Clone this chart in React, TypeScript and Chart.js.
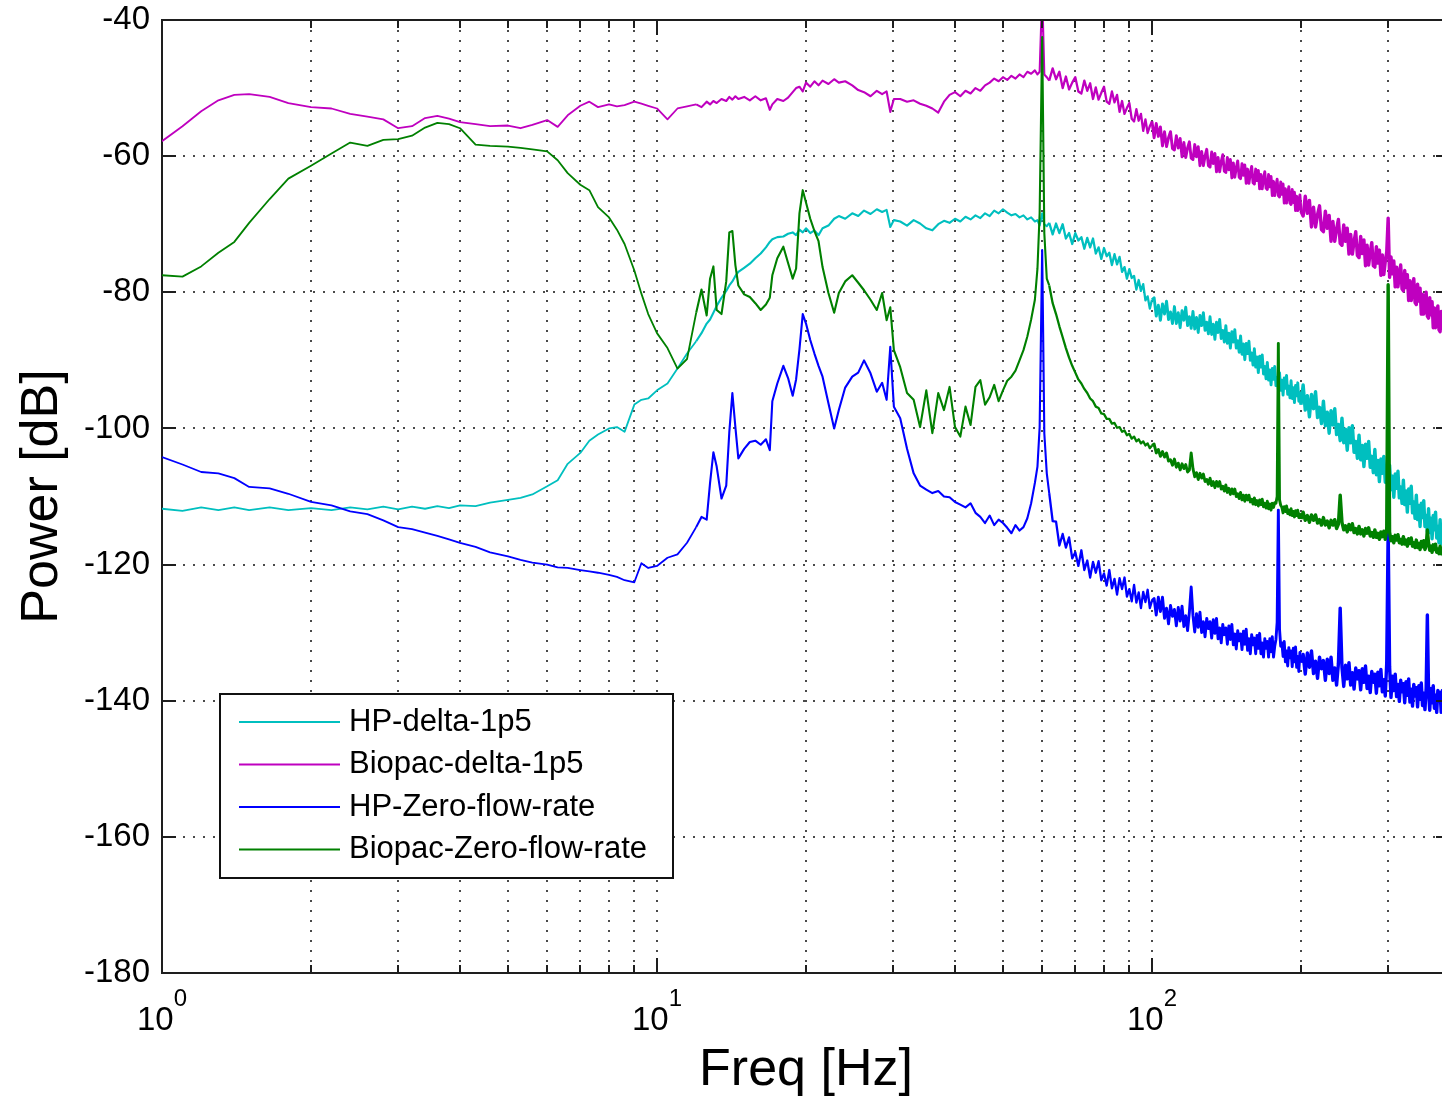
import React, { useEffect, useRef } from 'react';
import { Chart, registerables } from 'chart.js';

Chart.register(...registerables);

// ---------------- data ----------------
const FREQ_HZ = [
  1, 1.1, 1.2, 1.3, 1.4, 1.5, 1.65, 1.8, 2, 2.2, 2.4, 2.6, 2.8, 3, 3.2, 3.4, 3.6, 3.8, 4, 4.3, 4.6, 5, 5.3, 5.6, 6, 6.3, 6.6, 7, 7.3, 7.6, 8, 8.3, 8.6, 9, 9.3, 9.6,
  10, 10.5, 11, 11.5, 12, 12.3, 12.6, 12.8, 13, 13.2, 13.5, 13.8, 14, 14.2, 14.4, 14.6, 15, 15.4, 15.8, 16.2, 16.6, 16.9, 17.1, 17.5, 18, 18.4, 18.8, 19.1, 19.4, 19.7, 20, 20.4, 20.8, 21.2, 21.6, 22.2, 22.8, 23.3, 24, 24.8, 25.5, 26.2, 27, 27.8, 28.5, 29.1, 29.6, 30.1,
  31, 32, 33, 34, 35, 36, 37, 38, 39, 40, 41, 42, 43, 44, 45, 46, 47, 48, 49, 50, 51, 52, 53, 54, 55, 56, 57, 58, 58.7, 59.3, 60, 60.6, 61.3,
  62, 63, 64, 65, 66, 67, 68, 69, 70, 71, 72, 73, 74, 75, 76, 77, 78, 79, 80, 81, 82, 83, 84, 85, 86, 87, 88, 89, 90, 91, 92, 93, 94, 95, 96, 97, 98, 99, 100,
  101, 102, 103, 104, 105, 106, 107, 108, 109, 110, 111, 112, 113, 114, 115, 116, 117, 118, 119, 120,
  121, 122, 123, 124, 125, 126, 127, 128, 129, 130, 131, 132, 133, 134, 135, 136, 137, 138, 139, 140,
  141, 142, 143, 144, 145, 146, 147, 148, 149, 150, 151, 152, 153, 154, 155, 156, 157, 158, 159, 160,
  161, 162, 163, 164, 165, 166, 167, 168, 169, 170, 171, 172, 173, 174, 175, 176, 177, 178, 179, 180,
  181, 182, 183, 184, 185, 186, 187, 188, 189, 190, 191, 192, 193, 194, 195, 196, 197, 198, 199, 200,
  202, 204, 206, 208, 210, 212, 214, 216, 218, 220, 222, 224, 226, 228, 230, 232, 234, 236, 238, 240,
  242, 244, 246, 248, 250, 252, 254, 256, 258, 260, 262, 264, 266, 268, 270, 272, 274, 276, 278, 280,
  282, 284, 286, 288, 290, 292, 294, 296, 298, 300, 302, 304, 306, 308, 310, 312, 314, 316, 318, 320,
  322, 324, 326, 328, 330, 332, 334, 336, 338, 340, 342, 344, 346, 348, 350, 352, 354, 356, 358, 360,
  362, 364, 366, 368, 370, 372, 374, 376, 378, 380, 382, 384, 386, 388, 390, 392, 394, 396, 398, 400,
];

const HP_DELTA_1P5 = [
  -111.8, -112.1, -111.6, -112.0, -111.6, -112.0, -111.6, -112.0, -111.7, -112.0, -111.6, -111.9, -111.5, -111.9, -111.5, -111.8, -111.4, -111.7, -111.3, -111.4, -110.9, -110.5, -110.2, -109.7, -108.5, -107.6, -105.2, -103.6, -101.8, -100.9, -100.0, -99.8, -100.5, -96.5, -95.8, -95.6,
  -94.4, -93.4, -91.2, -89.0, -87.2, -86.0, -84.6, -84.0, -83.0, -82.0, -80.8, -79.8, -79.0, -78.4, -77.6, -77.0, -76.4, -75.8, -75.0, -74.3, -73.4, -72.6, -72.2, -71.9, -71.8, -71.4, -71.2, -71.6, -70.8, -71.2, -70.6, -71.3, -70.9, -71.6, -70.6, -70.2, -69.2, -68.8, -69.2, -68.4, -68.8, -68.0, -68.5, -67.8, -68.2, -67.9, -70.4, -69.4,
  -69.6, -70.2, -69.4, -69.9, -70.6, -70.9, -70.0, -69.5, -69.8, -69.2, -69.6, -68.9, -69.3, -68.7, -69.1, -68.4, -68.8, -68.0, -68.4, -67.8, -68.3, -68.7, -68.5, -69.0, -68.7, -69.3, -69.0, -69.6, -69.4, -70.2, -68.4, -70.0, -70.3,
  -69.8, -71.5, -69.9, -71.3, -70.0, -72.1, -71.3, -72.9, -71.3, -72.4, -71.9, -73.6, -72.0, -73.4, -72.1, -74.3, -73.4, -75.1, -73.5, -74.7, -74.2, -76.0, -74.4, -75.9, -74.8, -77.0, -76.3, -78.0, -76.6, -77.9, -77.6, -79.6, -78.2, -79.8, -78.8, -81.2, -80.6, -82.4, -81.1,
  -80.8, -83.5, -81.9, -84.1, -81.7, -83.2, -81.3, -84.0, -82.9, -84.6, -82.1, -84.6, -83.0, -85.2, -82.7, -84.1, -82.2, -84.9, -83.6, -85.3,
  -82.8, -85.4, -83.7, -85.9, -83.4, -84.9, -83.0, -85.6, -84.4, -86.1, -83.6, -86.2, -84.7, -86.9, -84.4, -85.9, -84.0, -86.8, -85.6, -87.3,
  -84.9, -87.5, -86.0, -88.2, -85.8, -87.3, -85.5, -88.2, -87.1, -88.8, -86.4, -89.1, -87.6, -89.9, -87.5, -89.0, -87.2, -90.0, -88.9, -90.7,
  -88.3, -91.0, -89.5, -91.8, -89.4, -91.0, -89.2, -92.0, -90.9, -92.7, -90.3, -92.9, -91.4, -93.6, -91.2, -92.8, -90.9, -93.7, -92.5, -94.3,
  -91.8, -94.4, -92.9, -95.1, -92.6, -94.1, -92.2, -95.0, -93.8, -95.5, -93.0, -95.6, -94.0, -96.2, -93.7, -95.2, -93.3, -96.0, -94.8, -96.5,
  -93.6, -97.3, -95.2, -98.3, -95.0, -97.1, -94.6, -98.4, -96.9, -99.3, -96.0, -99.6, -97.6, -100.7, -97.4, -99.5, -97.1, -100.9, -99.4, -101.8,
  -98.5, -102.1, -100.1, -103.2, -99.9, -102.1, -99.6, -103.5, -101.9, -104.4, -101.0, -104.6, -102.5, -105.6, -102.3, -104.4, -101.9, -105.7, -104.1, -106.5,
  -103.1, -106.8, -104.7, -107.8, -104.5, -106.6, -104.1, -107.9, -106.4, -108.8, -105.4, -109.0, -107.0, -110.1, -106.7, -108.8, -106.3, -110.2, -108.6, -111.0,
  -107.6, -111.2, -109.2, -112.3, -108.9, -111.0, -108.5, -112.4, -110.8, -113.2, -109.8, -113.4, -111.3, -114.4, -111.0, -113.1, -110.6, -114.4, -112.8, -115.2,
  -111.8, -115.3, -113.2, -116.2, -112.8, -114.9, -112.3, -116.1, -114.4, -116.8, -113.4, -116.9, -114.8, -117.8, -114.4, -116.4, -113.9, -117.6, -116.0, -118.3,
];

const BIOPAC_DELTA_1P5 = [
  -57.8, -55.6, -53.4, -51.8, -51.0, -50.9, -51.3, -52.2, -52.8, -53.0, -53.8, -54.2, -54.6, -55.9, -55.6, -54.4, -54.1, -54.5, -55.0, -55.3, -55.6, -55.5, -55.9, -55.4, -54.7, -55.7, -54.0, -52.6, -52.0, -52.8, -52.4, -52.7, -52.5, -52.0, -52.3, -52.6,
  -53.0, -54.6, -53.0, -52.7, -52.4, -52.8, -52.0, -52.4, -51.9, -52.2, -51.6, -51.9, -51.3, -51.7, -51.2, -51.6, -51.3, -51.8, -51.2, -51.8, -51.5, -53.2, -52.4, -51.6, -51.9, -51.4, -50.6, -50.0, -49.8, -50.5, -49.2, -49.8, -49.0, -49.6, -48.9, -49.4, -48.7, -49.2, -49.0, -49.6, -50.3, -50.6, -51.2, -50.4, -50.9, -50.5, -53.5, -51.6,
  -51.6, -52.0, -51.8, -52.3, -52.6, -53.0, -53.6, -52.0, -51.0, -50.6, -51.2, -50.4, -50.8, -50.0, -50.4, -49.6, -49.2, -48.6, -49.0, -48.4, -48.8, -48.2, -48.6, -48.0, -48.4, -47.6, -47.9, -47.4, -48.0, -47.6, -36.0, -48.0, -48.4,
  -48.9, -47.1, -48.7, -47.6, -50.0, -48.3, -50.2, -49.2, -48.4, -50.5, -50.8, -48.9, -50.4, -49.3, -51.6, -49.9, -51.7, -50.7, -49.8, -52.0, -52.3, -50.5, -52.1, -51.0, -53.5, -51.9, -53.8, -52.9, -52.2, -54.5, -54.9, -53.1, -54.8, -53.8, -56.3, -54.6, -56.6, -55.6, -54.9,
  -57.3, -55.2, -57.1, -55.7, -58.5, -56.4, -58.6, -57.3, -56.4, -58.9, -59.1, -57.0, -58.8, -57.4, -60.1, -58.0, -60.2, -58.8, -57.9, -60.3,
  -60.5, -58.3, -60.1, -58.6, -61.4, -59.3, -61.4, -60.0, -59.0, -61.4, -61.6, -59.4, -61.1, -59.6, -62.3, -60.2, -62.3, -60.8, -59.8, -62.2,
  -62.4, -60.2, -62.0, -60.5, -63.2, -61.0, -63.1, -61.7, -60.7, -63.1, -63.3, -61.1, -62.8, -61.3, -64.0, -61.9, -64.0, -62.5, -61.5, -63.9,
  -64.1, -61.9, -63.6, -62.1, -64.8, -62.7, -64.8, -63.3, -62.3, -64.7, -64.9, -62.7, -64.5, -63.0, -65.8, -63.7, -65.8, -64.4, -63.4, -65.8,
  -66.0, -63.8, -65.6, -64.1, -66.9, -64.8, -66.9, -65.5, -64.5, -66.9, -67.1, -64.9, -66.8, -65.3, -68.0, -65.9, -68.0, -66.7, -65.7, -68.1,
  -68.8, -65.9, -68.4, -66.5, -70.4, -67.5, -70.4, -68.6, -67.3, -70.8, -71.1, -68.1, -70.6, -68.7, -72.5, -69.6, -72.5, -70.7, -69.3, -72.8,
  -73.1, -70.1, -72.5, -70.6, -74.4, -71.5, -74.4, -72.5, -71.1, -74.6, -74.9, -71.8, -74.3, -72.3, -76.1, -73.1, -76.0, -74.1, -72.7, -76.1,
  -76.3, -73.3, -75.7, -73.8, -77.5, -74.5, -77.4, -75.5, -74.1, -69.1, -77.8, -74.8, -77.3, -75.4, -79.2, -76.3, -79.2, -77.4, -76.0, -79.5,
  -79.8, -76.8, -79.3, -77.4, -81.2, -78.3, -81.2, -79.4, -78.0, -81.5, -81.8, -78.8, -81.3, -79.4, -83.2, -80.3, -83.2, -81.4, -80.0, -83.5,
  -83.8, -80.8, -83.3, -81.4, -85.2, -82.3, -85.2, -83.4, -82.0, -85.5, -85.8, -82.8, -85.3, -83.4, -87.2, -84.3, -87.2, -85.4, -84.0, -87.5,
];

const HP_ZERO_FLOW_RATE = [
  -104.2, -105.3, -106.4, -106.6, -107.3, -108.6, -108.8, -109.6, -110.8, -111.3, -112.2, -112.6, -113.5, -114.5, -114.8, -115.3, -115.8, -116.3, -116.8, -117.4, -118.2, -118.8, -119.3, -119.7, -120.0, -120.4, -120.5, -120.8, -121.0, -121.2, -121.5, -121.8, -122.3, -122.6, -119.8, -120.5,
  -120.2, -119.0, -118.5, -116.8, -114.5, -113.0, -113.4, -108.0, -103.5, -105.6, -110.3, -108.4, -100.5, -94.8, -99.8, -104.4, -103.0, -102.0, -101.8, -102.4, -101.6, -103.2, -96.0, -93.4, -90.8, -92.6, -95.2, -92.8, -88.4, -83.2, -84.6, -87.0, -89.0, -90.8, -92.4, -96.3, -100.0, -97.3, -94.0, -92.4, -91.8, -90.0, -91.9, -94.6, -93.3, -95.8, -88.0, -96.8,
  -98.5, -103.0, -106.6, -108.4, -109.0, -109.5, -109.2, -110.0, -110.1, -110.8, -111.2, -111.6, -111.0, -112.4, -113.0, -113.9, -112.8, -114.2, -113.4, -113.9, -114.6, -115.4, -114.2, -115.0, -114.5, -113.2, -111.0, -108.0, -105.6, -99.8, -73.8, -100.7, -106.6,
  -109.5, -113.6, -113.7, -117.2, -115.5, -117.5, -116.0, -119.1, -118.2, -120.2, -117.9, -120.8, -119.4, -121.9, -119.6, -121.2, -119.5, -122.3, -121.3, -123.1, -120.8, -123.5, -122.1, -124.4, -122.0, -123.6, -121.9, -124.7, -123.6, -125.4, -123.0, -125.6, -124.1, -126.4, -124.0, -125.5, -123.7, -126.4, -125.3,
  -125.0, -127.4, -124.8, -126.9, -124.8, -127.9, -126.4, -128.7, -126.0, -127.6, -126.6, -129.0, -126.3, -128.3, -126.1, -129.1, -127.5, -129.7, -127.0, -123.3,
  -127.5, -129.9, -127.2, -129.2, -127.0, -130.0, -128.4, -130.6, -127.9, -129.4, -128.4, -130.8, -128.1, -130.1, -127.9, -130.9, -129.3, -131.5, -128.8, -130.3,
  -129.3, -131.7, -129.0, -131.0, -128.8, -131.8, -130.2, -132.4, -129.7, -131.2, -130.2, -132.5, -129.8, -131.7, -129.5, -132.6, -130.9, -133.1, -130.3, -131.8,
  -130.8, -133.1, -130.4, -132.3, -130.1, -133.1, -131.5, -133.6, -130.9, -132.3, -131.3, -133.6, -130.9, -132.8, -130.6, -133.6, -132.0, -131.0, -128.5, -112.0,
  -129.5, -132.0, -131.5, -133.5, -131.3, -134.3, -132.7, -134.9, -132.2, -133.7, -132.7, -135.0, -132.3, -134.3, -132.1, -135.1, -133.5, -135.7, -132.9, -134.4,
  -133.2, -136.1, -133.0, -135.1, -132.7, -136.0, -134.2, -136.7, -133.6, -135.3, -134.1, -137.0, -133.9, -136.0, -133.6, -137.0, -135.2, -137.7, -134.6, -126.4,
  -135.1, -137.9, -134.8, -136.8, -134.4, -137.7, -135.9, -138.3, -135.2, -136.8, -135.6, -138.4, -135.3, -137.3, -134.9, -138.2, -136.4, -138.8, -135.7, -137.3,
  -136.1, -138.9, -135.8, -137.8, -135.4, -138.7, -136.9, -139.3, -134.5, -115.0, -135.0, -139.5, -136.4, -138.5, -136.1, -139.4, -137.6, -140.1, -137.0, -138.7,
  -137.5, -140.3, -137.2, -139.2, -136.8, -140.2, -138.3, -140.8, -137.6, -139.3, -138.1, -140.9, -137.8, -139.8, -137.4, -140.7, -138.9, -141.3, -138.2, -127.4,
  -138.5, -141.4, -138.2, -140.3, -137.8, -141.1, -139.2, -141.7, -138.5, -140.1, -138.8, -141.7, -138.5, -140.5, -138.0, -141.4, -139.5, -141.9, -138.7, -140.3,
];

const BIOPAC_ZERO_FLOW_RATE = [
  -77.5, -77.7, -76.2, -74.2, -72.6, -69.8, -66.3, -63.3, -61.4, -59.6, -58.0, -58.5, -57.6, -57.5, -57.0, -55.8, -55.1, -55.3, -55.9, -58.3, -58.5, -58.6, -58.8, -59.0, -59.3, -60.6, -62.5, -64.2, -65.0, -67.5, -69.0, -70.8, -72.9, -76.8, -80.2, -83.2,
  -86.0, -88.2, -91.2, -89.8, -83.0, -79.6, -83.4, -78.0, -76.2, -82.6, -83.2, -78.4, -71.2, -71.0, -76.0, -79.0, -80.3, -80.7, -81.6, -82.6, -81.8, -80.8, -77.5, -75.0, -73.3, -75.7, -78.0, -76.5, -68.4, -65.0, -66.8, -69.2, -71.0, -72.5, -76.3, -80.1, -83.0, -80.1, -78.4, -77.5, -78.6, -79.7, -81.1, -82.6, -80.1, -84.1, -82.2, -88.5,
  -91.0, -94.8, -95.8, -99.8, -94.4, -100.7, -94.8, -97.3, -93.9, -99.8, -101.2, -96.8, -99.5, -93.9, -92.9, -96.5, -95.4, -93.6, -96.0, -94.4, -93.0, -92.4, -91.5, -90.0, -88.5, -86.5, -84.0, -81.1, -76.5, -68.4, -42.5, -71.3, -78.0,
  -79.0, -81.6, -83.2, -85.0, -86.6, -88.2, -89.6, -90.8, -91.8, -92.8, -93.4, -94.2, -94.8, -95.6, -96.0, -96.8, -97.0, -97.8, -97.9, -98.6, -98.6, -99.3, -99.2, -99.9, -99.8, -100.5, -100.3, -101.0, -100.8, -101.5, -101.2, -101.9, -101.6, -102.2, -101.9, -102.5, -102.2, -102.9, -102.5,
  -102.3, -103.6, -103.1, -104.1, -103.4, -104.2, -103.6, -104.8, -104.6, -105.4, -104.5, -105.7, -105.1, -106.1, -105.2, -105.9, -105.3, -106.4, -106.1, -103.6,
  -105.9, -107.1, -106.5, -107.5, -106.6, -107.3, -106.7, -107.8, -107.5, -108.2, -107.3, -108.4, -107.8, -108.7, -107.8, -108.5, -107.8, -108.9, -108.5, -109.2,
  -108.3, -109.4, -108.8, -109.7, -108.9, -109.6, -108.9, -110.0, -109.6, -110.3, -109.4, -110.5, -109.8, -110.7, -109.8, -110.5, -109.8, -110.8, -110.4, -111.1,
  -110.2, -111.2, -110.6, -111.4, -110.5, -111.2, -110.4, -111.5, -111.0, -111.7, -110.7, -111.8, -111.1, -112.0, -111.0, -111.6, -110.9, -111.0, -110.0, -87.5,
  -110.5, -111.3, -111.6, -112.4, -111.5, -112.2, -111.4, -112.5, -112.0, -112.7, -111.8, -112.8, -112.2, -113.0, -112.1, -112.8, -112.0, -113.1, -112.6, -113.3,
  -112.3, -113.5, -112.8, -113.8, -112.7, -113.5, -112.7, -113.9, -113.4, -114.2, -113.1, -114.2, -113.6, -114.6, -113.5, -114.2, -113.4, -114.7, -114.1, -109.8,
  -113.8, -114.9, -114.3, -115.2, -114.1, -114.9, -114.0, -115.3, -114.7, -115.5, -114.4, -115.5, -114.9, -115.8, -114.7, -115.4, -114.6, -115.8, -115.3, -116.0,
  -114.9, -116.0, -115.4, -116.3, -115.2, -115.9, -115.1, -116.3, -114.8, -78.9, -115.2, -116.5, -115.9, -116.8, -115.7, -116.4, -115.6, -116.8, -116.3, -117.0,
  -115.9, -117.0, -116.4, -117.3, -116.2, -116.9, -116.1, -117.3, -116.8, -117.5, -116.4, -117.5, -116.9, -117.8, -116.6, -117.4, -116.5, -117.8, -117.2, -114.9,
  -116.8, -117.9, -117.3, -118.2, -117.1, -117.8, -117.0, -118.2, -117.7, -118.4, -117.3, -118.4, -117.8, -118.7, -117.6, -118.3, -117.5, -118.7, -118.2, -118.9,
];

const SERIES_LABELS = ['HP-delta-1p5', 'Biopac-delta-1p5', 'HP-Zero-flow-rate', 'Biopac-Zero-flow-rate'];
const SERIES_COLORS = ['#00BFBF', '#BF00BF', '#0000FF', '#008000'];
const SERIES_VALUES = [HP_DELTA_1P5, BIOPAC_DELTA_1P5, HP_ZERO_FLOW_RATE, BIOPAC_ZERO_FLOW_RATE];

const X_TICK_VALUES = [1, 2, 3, 4, 5, 6, 7, 8, 9, 10, 20, 30, 40, 50, 60, 70, 80, 90, 100, 200, 300, 400];
const X_DECADE_EXPONENTS = [0, 1, 2];
const Y_TICK_VALUES = [-180, -160, -140, -120, -100, -80, -60, -40];
const X_TITLE = 'Freq [Hz]';
const Y_TITLE = 'Power [dB]';

// ---------------- styling ----------------
const FONT = '"Liberation Sans", Arial, Helvetica, sans-serif';
const AXIS_COLOR = '#1e1e1e';
const GRID_COLOR = '#4a4a4a';
const CANVAS_W = 1470;
const CANVAS_H = 1099;

// line width per segment: the dense noisy part of the spectra reads as a solid band
const segmentWidth = (c: any) => {
  const f = c.p0 && c.p0.parsed ? c.p0.parsed.x : 0;
  if (f >= 200) return 3.4;
  if (f >= 100) return 2.9;
  if (f >= 61.5) return 2.3;
  if (f >= 12) return 2.1;
  return 1.8;
};

const isDecade = (v: number) => Math.abs(Math.log10(v) - Math.round(Math.log10(v))) < 1e-9;

const decorPlugin = {
  id: 'matlabDecor',
  afterDatasetsDraw(chart: any) {
    const { ctx, chartArea: a, scales } = chart;
    const x = scales.x;
    const y = scales.y;
    ctx.save();
    ctx.setLineDash([]);
    ctx.strokeStyle = AXIS_COLOR;
    ctx.lineWidth = 2;
    ctx.beginPath();
    ctx.moveTo(a.left, Math.round(a.top));
    ctx.lineTo(a.right, Math.round(a.top));
    ctx.moveTo(Math.round(a.right), a.top);
    ctx.lineTo(Math.round(a.right), a.bottom);
    ctx.stroke();
    ctx.beginPath();
    x.ticks.forEach((t: any) => {
      const px = Math.round(x.getPixelForValue(t.value));
      const len = isDecade(t.value) ? 15 : 8;
      ctx.moveTo(px, a.bottom);
      ctx.lineTo(px, a.bottom - len);
      ctx.moveTo(px, a.top);
      ctx.lineTo(px, a.top + len);
    });
    y.ticks.forEach((t: any) => {
      const py = Math.round(y.getPixelForValue(t.value));
      ctx.moveTo(a.left, py);
      ctx.lineTo(a.left + 14, py);
      ctx.moveTo(a.right - 14, py);
      ctx.lineTo(a.right, py);
    });
    ctx.stroke();
    ctx.restore();
  },
  afterDraw(chart: any) {
    const { ctx, chartArea: a, scales } = chart;
    const x = scales.x;
    ctx.save();
    // decade tick labels with superscript exponent
    ctx.fillStyle = '#000';
    ctx.textBaseline = 'alphabetic';
    ctx.textAlign = 'left';
    X_DECADE_EXPONENTS.forEach((e) => {
      const px = x.getPixelForValue(Math.pow(10, e));
      ctx.font = `33px ${FONT}`;
      const w1 = ctx.measureText('10').width;
      ctx.font = `24px ${FONT}`;
      const w2 = ctx.measureText(String(e)).width;
      const start = px - (w1 + w2) / 2;
      ctx.font = `33px ${FONT}`;
      ctx.fillText('10', start, a.bottom + 57);
      ctx.font = `24px ${FONT}`;
      ctx.fillText(String(e), start + w1, a.bottom + 33);
    });

    // legend box
    const bx = a.left + 58;
    const by = a.top + 674;
    const bw = 453;
    const bh = 184;
    ctx.fillStyle = '#fff';
    ctx.fillRect(bx, by, bw, bh);
    ctx.strokeStyle = '#111';
    ctx.lineWidth = 2;
    ctx.strokeRect(bx, by, bw, bh);
    ctx.font = `31px ${FONT}`;
    ctx.textBaseline = 'middle';
    chart.data.datasets.forEach((ds: any, i: number) => {
      const ly = by + 28 + i * 42.5;
      ctx.strokeStyle = ds.borderColor;
      ctx.lineWidth = 2;
      ctx.beginPath();
      ctx.moveTo(bx + 19, ly);
      ctx.lineTo(bx + 120, ly);
      ctx.stroke();
      ctx.fillStyle = '#000';
      ctx.fillText(ds.label, bx + 129, ly);
    });
    ctx.restore();
  },
};

export default function App() {
  const canvasRef = useRef<HTMLCanvasElement | null>(null);

  useEffect(() => {
    const canvas = canvasRef.current;
    if (!canvas) return;
    const chart = new Chart(canvas, {
      type: 'line',
      data: {
        datasets: SERIES_VALUES.map((vals, i) => ({
          label: SERIES_LABELS[i],
          data: FREQ_HZ.map((f, j) => ({ x: f, y: vals[j] })),
          borderColor: SERIES_COLORS[i],
          backgroundColor: SERIES_COLORS[i],
          borderWidth: 1.8,
          borderJoinStyle: 'round',
          segment: { borderWidth: segmentWidth },
          pointRadius: 0,
          pointHoverRadius: 0,
          tension: 0,
          fill: false,
          order: SERIES_VALUES.length - i,
        })),
      },
      options: {
        responsive: false,
        animation: false,
        devicePixelRatio: 1,
        events: [],
        layout: { padding: { top: 20, right: CANVAS_W - 1450, left: 0, bottom: 0 } },
        plugins: {
          legend: { display: false },
          tooltip: { enabled: false },
          title: { display: false },
        },
        scales: {
          x: {
            type: 'logarithmic',
            position: 'bottom',
            min: 1,
            max: 400,
            afterBuildTicks: (s: any) => {
              s.ticks = X_TICK_VALUES.map((v) => ({ value: v }));
            },
            afterFit: (s: any) => {
              s.height = CANVAS_H - 973;
              s.paddingLeft = 0;
              s.paddingRight = 0;
            },
            ticks: { display: false },
            grid: { color: GRID_COLOR, lineWidth: 2, drawTicks: false },
            border: { display: true, color: AXIS_COLOR, width: 2, dash: [2, 8] },
            title: {
              display: true,
              text: X_TITLE,
              color: '#000',
              font: { family: FONT, size: 52, lineHeight: 1.1 },
              padding: 0,
            },
          },
          y: {
            type: 'linear',
            position: 'left',
            min: -180,
            max: -40,
            afterBuildTicks: (s: any) => {
              s.ticks = Y_TICK_VALUES.map((v) => ({ value: v }));
            },
            afterFit: (s: any) => {
              s.width = 162;
              s.paddingTop = 0;
              s.paddingBottom = 0;
            },
            ticks: {
              color: '#000',
              font: { family: FONT, size: 33 },
              padding: 12,
              callback: (v: any) => String(v),
            },
            grid: { color: GRID_COLOR, lineWidth: 2, drawTicks: false },
            border: { display: true, color: AXIS_COLOR, width: 2, dash: [2, 8] },
            title: {
              display: true,
              text: Y_TITLE,
              color: '#000',
              font: { family: FONT, size: 52, lineHeight: 1.2 },
              padding: { top: 11, bottom: 0 },
            },
          },
        },
      } as any,
      plugins: [decorPlugin],
    });
    return () => chart.destroy();
  }, []);

  return (
    <div
      style={{
        position: 'fixed',
        left: 0,
        top: 0,
        width: 1442,
        height: CANVAS_H,
        overflow: 'hidden',
        background: '#fff',
      }}
    >
      <canvas
        ref={canvasRef}
        width={CANVAS_W}
        height={CANVAS_H}
        style={{ display: 'block', width: CANVAS_W, height: CANVAS_H }}
      />
    </div>
  );
}
